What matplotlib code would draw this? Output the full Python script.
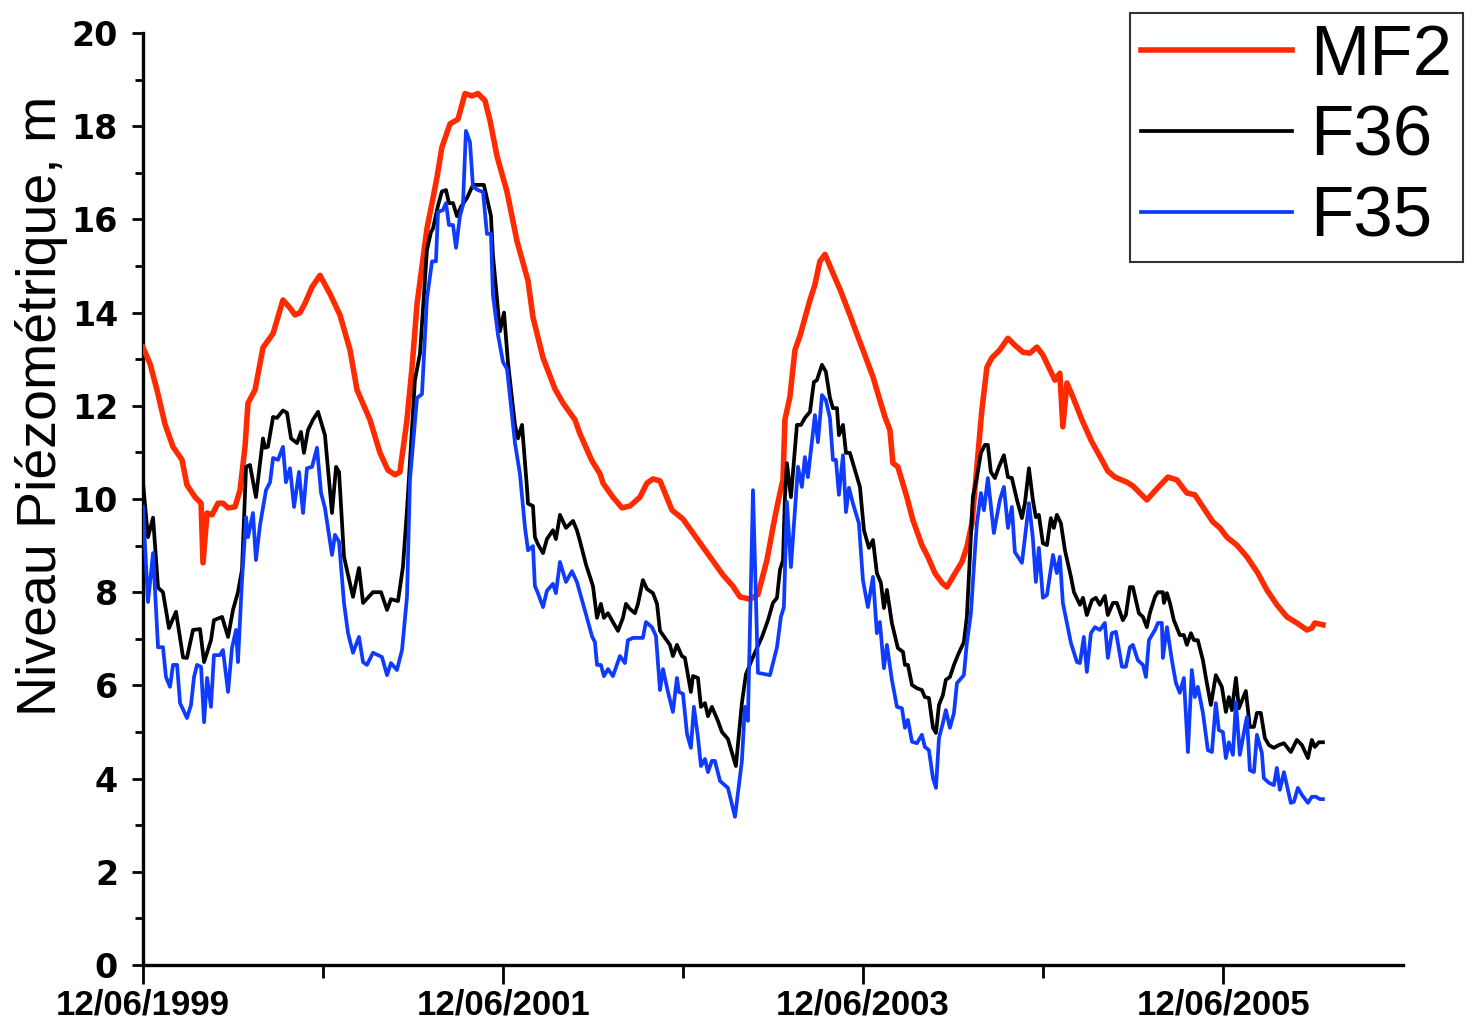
import numpy as np
import pandas as pd
import matplotlib
matplotlib.use('Agg')
import matplotlib.pyplot as plt
from matplotlib.ticker import MultipleLocator

plt.rcParams['font.family'] = ['Liberation Sans', 'DejaVu Sans']

# ── Données (temps en mois depuis le 12/06/1999, niveau en m) ──────────────
debut = pd.Timestamp('1999-06-12')

mois_mf2 = [0.0, 0.47, 0.93, 1.47, 2.0, 2.6, 2.93, 3.47, 3.87, 4.0, 4.27, 4.6, 5.0,
            5.33, 5.67, 6.13, 6.47, 6.8, 7.0, 7.47, 8.0, 8.67, 9.33, 9.8, 10.13,
            10.47, 10.8, 11.27, 11.8, 12.47, 13.13, 13.8, 14.27, 15.13, 15.8, 16.33,
            16.8, 17.13, 17.6, 17.93, 18.27, 18.93, 19.27, 19.6, 19.93, 20.47, 21.0,
            21.47, 21.93, 22.33, 22.8, 23.13, 23.6, 24.27, 24.93, 25.67, 26.0, 26.67,
            27.47, 28.0, 28.8, 29.13, 29.93, 30.47, 30.67, 31.33, 31.93, 32.47, 33.13,
            33.6, 34.0, 34.47, 35.27, 36.0, 36.67, 37.8, 38.67, 39.33, 39.8, 40.47,
            41.0, 41.6, 42.13, 42.47, 42.67, 42.8, 43.13, 43.47, 43.8, 44.47, 44.8,
            45.13, 45.47, 45.8, 46.13, 46.47, 47.13, 47.53, 48.0, 48.67, 49.13, 49.47,
            49.8, 50.0, 50.33, 50.93, 51.33, 51.93, 52.33, 52.8, 53.27, 53.6, 54.0,
            54.6, 54.93, 55.27, 55.6, 55.93, 56.27, 56.6, 57.13, 57.67, 58.13, 58.67,
            59.13, 59.6, 60.0, 60.47, 60.8, 61.13, 61.33, 61.6, 62.0, 62.6, 63.27,
            63.93, 64.33, 64.8, 65.6, 66.0, 66.93, 67.6, 68.33, 68.93, 69.6, 70.13,
            70.67, 71.33, 71.8, 72.27, 72.93, 73.6, 74.33, 74.93, 75.6, 76.27, 76.93,
            77.6, 77.93, 78.13, 78.67]
niv_mf2 = [13.25, 12.9, 12.34, 11.6, 11.12, 10.84, 10.3, 10.04, 9.91, 8.63, 9.7, 9.66,
           9.91, 9.91, 9.81, 9.83, 10.19, 11.12, 12.06, 12.34, 13.25, 13.55, 14.27, 14.1,
           13.95, 14.0, 14.2, 14.55, 14.8, 14.4, 13.95, 13.2, 12.34, 11.7, 10.99, 10.62,
           10.52, 10.58, 11.7, 12.8, 14.18, 15.8, 16.35, 16.9, 17.55, 18.05, 18.15, 18.7,
           18.65, 18.7, 18.55, 18.13, 17.36, 16.59, 15.54, 14.68, 13.9, 13.03, 12.36,
           12.06, 11.7, 11.4, 10.82, 10.54, 10.34, 10.04, 9.81, 9.85, 10.04, 10.34,
           10.43, 10.39, 9.76, 9.57, 9.27, 8.76, 8.37, 8.13, 7.9, 7.85, 7.95, 8.69, 9.61,
           10.13, 10.41, 11.7, 12.19, 13.2, 13.5, 14.27, 14.6, 15.1, 15.25, 15.0, 14.75,
           14.5, 13.95, 13.6, 13.2, 12.62, 12.12, 11.76, 11.48, 10.77, 10.69, 10.04,
           9.55, 9.01, 8.76, 8.41, 8.2, 8.11, 8.33, 8.65, 8.97, 9.48, 10.69, 11.91,
           12.83, 13.03, 13.2, 13.45, 13.3, 13.15, 13.13, 13.26, 13.09, 12.77, 12.55,
           12.7, 11.55, 12.49, 12.19, 11.7, 11.22, 10.84, 10.6, 10.47, 10.36, 10.28,
           9.98, 10.22, 10.47, 10.41, 10.13, 10.09, 9.83, 9.51, 9.38, 9.18, 9.01, 8.76,
           8.41, 8.05, 7.73, 7.47, 7.34, 7.19, 7.23, 7.34, 7.3]

mois_f36 = [0.0, 0.33, 0.67, 1.0, 1.33, 1.73, 2.2, 2.67, 2.93, 3.33, 3.8, 4.07, 4.53,
            4.73, 5.27, 5.67, 6.0, 6.33, 6.6, 6.87, 7.13, 7.53, 8.0, 8.13, 8.33, 8.67,
            8.93, 9.33, 9.6, 9.87, 10.27, 10.53, 10.73, 11.0, 11.33, 11.67, 12.13, 12.6,
            12.87, 13.07, 13.4, 14.0, 14.4, 14.67, 15.33, 15.87, 16.27, 16.53, 17.0,
            17.33, 17.6, 18.13, 18.47, 18.93, 19.2, 19.33, 19.67, 19.93, 20.2, 20.4,
            20.67, 20.93, 21.2, 21.6, 22.0, 22.73, 23.2, 23.33, 23.6, 23.8, 24.07, 24.33,
            24.8, 25.0, 25.27, 25.6, 25.67, 26.0, 26.13, 26.33, 26.67, 26.93, 27.33,
            27.53, 27.8, 28.2, 28.67, 28.93, 29.13, 29.53, 30.0, 30.27, 30.53, 30.73,
            31.0, 31.33, 31.67, 32.0, 32.2, 32.47, 32.8, 33.0, 33.33, 33.6, 34.0, 34.27,
            34.47, 35.13, 35.33, 35.6, 35.93, 36.13, 36.53, 36.67, 37.0, 37.2, 37.47,
            37.67, 37.93, 38.33, 38.6, 39.0, 39.53, 39.93, 40.2, 40.67, 41.27, 41.67,
            42.0, 42.27, 42.47, 42.67, 42.8, 42.93, 43.2, 43.6, 43.87, 44.13, 44.47,
            44.73, 44.93, 45.27, 45.53, 45.8, 46.0, 46.27, 46.4, 46.67, 46.87, 47.13,
            47.47, 47.8, 48.07, 48.4, 48.67, 48.93, 49.2, 49.4, 49.6, 49.93, 50.33,
            50.67, 50.8, 51.0, 51.27, 51.6, 51.93, 52.13, 52.4, 52.67, 52.87, 53.07,
            53.33, 53.53, 53.8, 54.07, 54.33, 54.73, 54.93, 55.13, 55.33, 55.6, 55.87,
            56.13, 56.33, 56.53, 56.8, 57.07, 57.4, 57.67, 57.93, 58.27, 58.6, 58.8,
            59.07, 59.33, 59.53, 59.73, 60.0, 60.27, 60.53, 60.73, 60.93, 61.2, 61.47,
            61.87, 62.07, 62.47, 62.67, 62.93, 63.27, 63.53, 63.8, 64.13, 64.33, 64.67,
            64.93, 65.33, 65.53, 65.8, 66.0, 66.4, 66.67, 66.93, 67.13, 67.47, 67.67,
            68.0, 68.07, 68.27, 68.47, 68.73, 69.13, 69.4, 69.6, 69.87, 70.07, 70.33,
            70.67, 70.87, 71.2, 71.53, 71.93, 72.2, 72.4, 72.6, 72.87, 73.07, 73.53,
            73.8, 74.07, 74.27, 74.53, 74.8, 75.07, 75.4, 75.73, 76.07, 76.53, 76.93,
            77.27, 77.67, 77.93, 78.13, 78.4, 78.67]
niv_f36 = [10.35, 9.18, 9.6, 8.1, 8.0, 7.23, 7.58, 6.6, 6.59, 7.19, 7.21, 6.5, 6.97,
           7.4, 7.47, 7.04, 7.62, 8.0, 8.48, 10.69, 10.73, 10.04, 11.3, 11.1, 11.12,
           11.76, 11.74, 11.9, 11.85, 11.3, 11.2, 11.44, 10.99, 11.48, 11.7, 11.87,
           11.37, 9.7, 10.69, 10.58, 8.76, 7.9, 8.52, 7.77, 8.0, 8.0, 7.62, 7.85, 7.81,
           8.54, 9.76, 12.55, 13.13, 15.34, 15.73, 15.8, 16.3, 16.6, 16.63, 16.35,
           16.35, 16.07, 16.27, 16.46, 16.74, 16.74, 16.07, 15.24, 14.3, 13.6, 14.0,
           12.94, 11.59, 11.3, 11.59, 10.24, 9.9, 9.85, 9.18, 9.03, 8.84, 9.14, 9.33,
           9.14, 9.66, 9.38, 9.53, 9.33, 9.1, 8.6, 8.13, 7.45, 7.75, 7.45, 7.55, 7.36,
           7.17, 7.45, 7.75, 7.64, 7.55, 7.75, 8.26, 8.07, 7.98, 7.75, 7.17, 6.87, 6.63,
           6.87, 6.63, 6.59, 5.86, 6.2, 6.16, 5.54, 5.62, 5.34, 5.54, 5.24, 5.0, 4.85,
           4.27, 5.62, 6.24, 6.61, 7.04, 7.4, 7.77, 7.88, 8.48, 8.69, 10.04, 10.77,
           10.04, 11.59, 11.59, 11.74, 11.87, 12.51, 12.55, 12.88, 12.73, 12.17, 11.95,
           11.95, 11.37, 11.59, 10.99, 10.99, 10.62, 10.26, 9.33, 8.95, 9.12, 8.41, 8.2,
           7.66, 8.05, 7.34, 6.8, 6.72, 6.44, 6.44, 6.01, 5.94, 5.9, 5.75, 5.73, 5.09,
           4.98, 5.58, 5.79, 6.12, 6.18, 6.44, 6.65, 6.93, 7.47, 8.76, 10.04, 10.47,
           10.99, 11.16, 11.16, 10.58, 10.45, 10.69, 10.94, 10.47, 10.45, 9.98, 9.59,
           9.91, 10.66, 9.98, 9.61, 9.66, 9.05, 9.01, 9.59, 9.38, 9.66, 9.48, 8.9, 8.33,
           8.0, 7.73, 7.88, 7.51, 7.83, 7.88, 7.73, 7.92, 7.51, 7.77, 7.77, 7.4, 7.51,
           8.11, 8.11, 7.55, 7.47, 7.25, 7.55, 7.9, 8.0, 8.0, 7.77, 7.98, 7.77, 7.4,
           7.08, 7.08, 6.87, 7.12, 6.97, 6.97, 6.54, 6.16, 5.58, 6.22, 5.97, 5.43, 5.75,
           5.47, 6.16, 5.51, 5.88, 5.11, 5.11, 5.41, 5.41, 4.87, 4.72, 4.66, 4.72, 4.76,
           4.57, 4.83, 4.72, 4.44, 4.83, 4.68, 4.78, 4.78]

mois_f35 = [0.0, 0.33, 0.67, 1.0, 1.33, 1.53, 1.8, 2.0, 2.27, 2.47, 2.93, 3.2, 3.4, 3.6,
            3.87, 4.07, 4.27, 4.53, 4.73, 5.13, 5.33, 5.67, 5.93, 6.2, 6.33, 6.6, 6.87,
            7.0, 7.33, 7.53, 7.8, 8.2, 8.47, 8.67, 9.0, 9.33, 9.53, 9.8, 10.07, 10.4,
            10.67, 10.93, 11.27, 11.6, 11.87, 12.13, 12.6, 12.8, 13.07, 13.4, 13.67,
            14.0, 14.4, 14.67, 14.93, 15.33, 15.93, 16.27, 16.53, 16.93, 17.27, 17.6,
            17.8, 18.27, 18.6, 18.93, 19.27, 19.53, 19.67, 20.0, 20.2, 20.4, 20.67,
            20.87, 21.13, 21.33, 21.53, 21.8, 22.0, 22.33, 22.67, 22.93, 23.2, 23.33,
            23.67, 24.0, 24.27, 24.8, 25.13, 25.47, 25.67, 26.0, 26.13, 26.33, 26.67,
            26.93, 27.33, 27.53, 27.8, 28.2, 28.6, 28.93, 29.27, 29.6, 29.93, 30.13,
            30.27, 30.53, 30.73, 31.0, 31.33, 31.8, 32.13, 32.33, 32.67, 32.93, 33.33,
            33.53, 33.93, 34.2, 34.47, 34.67, 35.0, 35.33, 35.6, 35.73, 36.0, 36.27,
            36.53, 36.73, 37.0, 37.2, 37.47, 37.67, 37.93, 38.13, 38.47, 39.0, 39.47,
            39.93, 40.13, 40.33, 40.67, 41.0, 41.8, 42.27, 42.53, 42.73, 42.93, 43.2,
            43.53, 43.67, 43.93, 44.13, 44.33, 44.8, 45.0, 45.27, 45.53, 45.8, 46.0,
            46.2, 46.4, 46.67, 46.87, 47.07, 47.33, 47.73, 48.0, 48.33, 48.67, 48.93,
            49.13, 49.4, 49.6, 49.93, 50.27, 50.6, 50.8, 51.0, 51.27, 51.6, 51.93, 52.13,
            52.4, 52.67, 52.87, 53.07, 53.33, 53.53, 53.8, 54.07, 54.27, 54.73, 54.93,
            55.2, 55.47, 55.6, 55.87, 56.07, 56.33, 56.73, 57.13, 57.4, 57.67, 57.93,
            58.13, 58.6, 58.8, 59.07, 59.33, 59.53, 59.73, 60.0, 60.27, 60.67, 60.93,
            61.13, 61.33, 61.87, 62.27, 62.47, 62.73, 62.93, 63.2, 63.47, 63.8, 64.13,
            64.33, 64.6, 64.87, 65.27, 65.53, 65.8, 66.0, 66.33, 66.67, 66.87, 67.07,
            67.47, 67.67, 67.93, 68.0, 68.27, 68.6, 68.87, 69.13, 69.4, 69.67, 69.93,
            70.13, 70.33, 70.67, 71.0, 71.27, 71.53, 71.73, 72.0, 72.2, 72.4, 72.67,
            72.87, 73.13, 73.47, 73.6, 73.8, 74.07, 74.27, 74.6, 74.73, 75.07, 75.4,
            75.6, 75.8, 76.07, 76.53, 76.73, 77.0, 77.27, 77.67, 77.93, 78.2, 78.47,
            78.67]
niv_f35 = [9.83, 7.79, 8.84, 6.82, 6.82, 6.18, 5.97, 6.44, 6.44, 5.62, 5.3, 5.58, 6.18,
           6.44, 6.4, 5.21, 6.16, 5.54, 6.65, 6.65, 6.76, 5.86, 6.8, 7.19, 6.5, 8.26,
           9.61, 9.18, 9.7, 8.69, 9.44, 10.19, 10.36, 10.88, 10.84, 11.12, 10.36, 10.66,
           9.83, 10.58, 9.7, 10.66, 10.69, 11.1, 10.13, 9.81, 8.8, 9.23, 9.08, 7.77,
           7.12, 6.7, 7.04, 6.5, 6.44, 6.7, 6.61, 6.22, 6.48, 6.33, 6.76, 7.9, 10.43,
           12.17, 12.25, 14.3, 15.1, 15.1, 16.16, 16.2, 16.35, 15.88, 15.88, 15.39,
           16.07, 16.3, 17.9, 17.66, 16.7, 16.63, 16.59, 15.69, 15.69, 14.38, 13.52,
           12.94, 12.79, 11.2, 10.54, 9.38, 8.9, 8.99, 8.13, 7.98, 7.68, 8.03, 8.18,
           7.98, 8.65, 8.22, 8.45, 8.22, 7.83, 7.45, 7.06, 6.93, 6.44, 6.44, 6.2, 6.35,
           6.2, 6.63, 6.48, 6.97, 7.02, 7.02, 7.02, 7.36, 7.25, 7.06, 5.9, 6.35, 5.86,
           5.43, 6.16, 5.86, 5.82, 4.96, 4.66, 5.54, 4.89, 4.27, 4.42, 4.14, 4.38, 4.38,
           3.95, 3.8, 3.18, 4.38, 5.54, 5.24, 10.19, 6.27, 6.22, 6.82, 7.47, 7.68, 9.94,
           8.54, 10.04, 10.69, 10.26, 10.9, 10.47, 11.8, 11.22, 12.23, 12.12, 11.74,
           10.84, 10.84, 10.09, 10.94, 9.72, 10.24, 9.91, 9.48, 8.26, 7.68, 8.33, 7.12,
           7.36, 6.37, 6.87, 6.12, 5.54, 5.51, 5.09, 5.26, 4.79, 4.76, 4.94, 4.68, 4.61,
           4.01, 3.8, 4.87, 5.19, 5.47, 5.09, 5.41, 6.05, 6.22, 6.91, 7.55, 8.9, 9.48,
           10.13, 9.76, 10.45, 9.27, 9.98, 10.26, 9.38, 9.83, 8.86, 8.63, 9.16, 9.91,
           9.16, 8.22, 8.95, 7.88, 7.94, 8.8, 8.41, 8.76, 7.77, 6.91, 6.5, 6.48, 7.04,
           6.29, 7.12, 7.25, 7.19, 7.34, 6.59, 7.12, 7.15, 6.4, 6.4, 6.82, 6.87, 6.54,
           6.44, 6.18, 6.97, 7.19, 7.34, 7.34, 6.59, 7.25, 6.54, 6.05, 5.84, 6.16, 4.57,
           6.33, 5.75, 5.97, 5.41, 4.61, 4.57, 5.62, 5.04, 5.0, 4.44, 4.78, 4.51, 5.64,
           4.51, 5.11, 5.32, 4.18, 4.14, 4.94, 4.55, 4.01, 3.91, 3.86, 4.23, 3.76, 4.14,
           3.48, 3.5, 3.8, 3.65, 3.48, 3.61, 3.61, 3.56, 3.56]

graduations_x = ['1999-06-12', '2001-06-12', '2003-06-12', '2005-06-12']
graduations_x_sec = ['2000-06-12', '2002-06-12', '2004-06-12']


def vers_dates(mois):
    return debut + pd.to_timedelta(np.array(mois) * 30.4375, unit='D')


fig = plt.figure(figsize=(14.79, 10.31), dpi=100)
ax = fig.add_axes([0.0967, 0.064, 0.8519, 0.904])

ax.plot(vers_dates(mois_mf2), niv_mf2, color='#FF2A00', lw=4.0, label='MF2', zorder=3)
ax.plot(vers_dates(mois_f36), niv_f36, color='black', lw=2.7, label='F36', zorder=4)
ax.plot(vers_dates(mois_f35), niv_f35, color='#0F3BFF', lw=2.7, label='F35', zorder=5)

ax.set_xlim(pd.Timestamp('1999-06-12'), pd.Timestamp('2006-06-12'))
ax.set_ylim(0, 20)

maj = pd.to_datetime(graduations_x)
ax.set_xticks(maj)
ax.set_xticklabels([d.strftime('%d/%m/%Y') for d in maj])
ax.set_xticks(pd.to_datetime(graduations_x_sec), minor=True)
ax.yaxis.set_major_locator(MultipleLocator(2))
ax.yaxis.set_minor_locator(MultipleLocator(1))

for cote in ['top', 'right']:
    ax.spines[cote].set_visible(False)
for cote in ['left', 'bottom']:
    ax.spines[cote].set_linewidth(2.4)

ax.tick_params(axis='x', which='major', length=14, width=2, pad=3)
ax.tick_params(axis='x', which='minor', length=9, width=2)
ax.tick_params(axis='y', which='major', length=8, width=2, pad=10)
ax.tick_params(axis='y', which='minor', length=6, width=2)
for lab in ax.get_xticklabels():
    lab.set_fontweight('bold')
    lab.set_fontsize(25)
for lab in ax.get_yticklabels():
    lab.set_fontweight('bold')
    lab.set_fontfamily(['DejaVu Sans'])
    lab.set_fontsize(24)

ax.set_ylabel('Niveau Piézométrique, m', fontsize=40)
ax.yaxis.set_label_coords(-0.0595, 0.60)

leg = ax.legend(loc='upper right', bbox_to_anchor=(0.989, 0.987),
                bbox_transform=fig.transFigure, fontsize=51,
                handlelength=2.14, handletextpad=0.25, labelspacing=0.21,
                borderpad=0.15, borderaxespad=0.0, fancybox=False,
                frameon=True, framealpha=1)
leg.get_frame().set_edgecolor('#333333')
leg.get_frame().set_linewidth(1.5)

fig.savefig('out.png', dpi=100)
